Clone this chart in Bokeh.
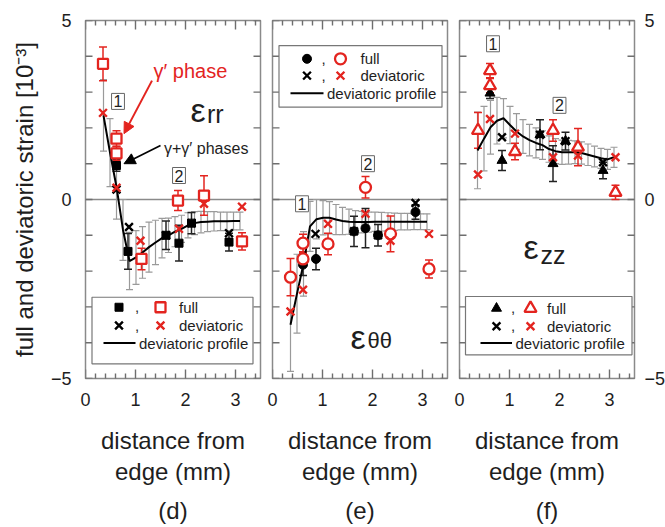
import math
from bokeh.plotting import figure
from bokeh.layouts import row
from bokeh.models import (Range1d, LinearAxis, FixedTicker, Span, Whisker, TeeHead,
                          ColumnDataSource, Label, Arrow, NormalHead, Title)
from bokeh.core.properties import value
from bokeh.embed import file_html
from bokeh.resources import INLINE

FONT = "Liberation Sans"
RED = "#e3241f"
GRAY = "#8a8a8a"
TXT = "#1e1e1e"

# ---------------- data ----------------
X_TICKS = [0, 1, 2, 3]
X_MINOR = [0.2, 0.4, 0.6, 0.8, 1.2, 1.4, 1.6, 1.8, 2.2, 2.4, 2.6, 2.8, 3.2, 3.4]
Y_TICKS = [-5, 0, 5]
Y_MINOR = [-4, -3, -2, -1, 1, 2, 3, 4]
X_LIM = (0, 3.5)
Y_LIM = (-5, 5)

# common abscissa of the deviatoric profiles (mm)
PX = [0.36, 0.49, 0.62, 0.75, 0.88, 1.01, 1.14, 1.27, 1.40, 1.53, 1.66, 1.79, 1.92,
      2.05, 2.18, 2.31, 2.44, 2.57, 2.70, 2.83, 2.96, 3.09]

# (d) eps_rr
D_FULL_RED_X = [0.35, 0.62, 0.62, 1.12, 1.85, 2.37, 3.13]
D_FULL_RED_Y = [3.79, 1.70, 1.29, -1.66, -0.03, 0.11, -1.17]
D_FULL_RED_E = [0.47, 0.22, 0.20, 0.30, 0.28, 0.55, 0.24]
D_FULL_BLK_X = [0.62, 0.85, 1.61, 1.87, 2.12, 2.87]
D_FULL_BLK_Y = [0.95, -1.45, -1.00, -1.22, -0.66, -1.19]
D_FULL_BLK_E = [0.16, 0.50, 0.40, 0.50, 0.30, 0.25]
D_DEV_BLK_X = [0.62, 0.87, 1.61, 2.12, 2.87]
D_DEV_BLK_Y = [0.28, -0.77, -1.00, -0.66, -0.94]
D_DEV_RED_X = [0.35, 0.62, 1.10, 1.87, 2.37, 3.13]
D_DEV_RED_Y = [2.42, 0.33, -1.15, -0.82, -0.12, -0.20]
D_PY = [2.35, 1.31, 0.35, -0.85, -1.72, -1.62, -1.48, -1.33, -1.20, -1.08, -1.00, -0.90,
        -0.82, -0.72, -0.66, -0.63, -0.62, -0.61, -0.61, -0.61, -0.60, -0.60]
D_PE = [1.00, 0.95, 0.90, 0.85, 0.80, 0.75, 0.72, 0.70, 0.62, 0.55, 0.48, 0.42, 0.38,
        0.35, 0.32, 0.30, 0.28, 0.27, 0.26, 0.26, 0.25, 0.25]

# (e) eps_theta theta
E_FULL_RED_X = [0.36, 0.61, 0.61, 1.11, 1.86, 2.36, 3.13]
E_FULL_RED_Y = [-2.17, -1.22, -1.66, -1.24, 0.34, -0.96, -1.94]
E_FULL_RED_E = [0.52, 0.25, 0.20, 0.30, 0.30, 0.50, 0.25]
E_FULL_BLK_X = [0.61, 0.87, 1.63, 1.86, 2.11, 2.86]
E_FULL_BLK_Y = [-1.82, -1.66, -0.89, -0.80, -1.00, -0.35]
E_FULL_BLK_E = [0.30, 0.30, 0.42, 0.55, 0.30, 0.20]
E_DEV_BLK_X = [0.86, 1.63, 2.11, 2.86]
E_DEV_BLK_Y = [-0.96, -0.89, -1.00, -0.10]
E_DEV_RED_X = [0.36, 0.61, 1.11, 1.86, 2.36, 3.13]
E_DEV_RED_Y = [-3.13, -2.52, -0.68, -0.40, -1.15, -0.96]
E_PY = [-3.50, -2.63, -1.80, -0.75, -0.55, -0.51, -0.51, -0.56, -0.60, -0.62, -0.63,
        -0.63, -0.63, -0.62, -0.62, -0.62, -0.62, -0.62, -0.62, -0.62, -0.62, -0.62]
E_PE = [1.30, 1.10, 0.90, 0.70, 0.55, 0.48, 0.45, 0.42, 0.38, 0.35, 0.32, 0.30, 0.28,
        0.27, 0.26, 0.25, 0.24, 0.23, 0.23, 0.22, 0.22, 0.22]

# (f) eps_zz
F_FULL_RED_X = [0.37, 0.61, 0.61, 1.11, 1.87, 2.37, 3.12]
F_FULL_RED_Y = [1.93, 3.60, 3.18, 1.34, 1.93, 1.46, 0.20]
F_FULL_RED_E = [0.50, 0.20, 0.20, 0.23, 0.30, 0.52, 0.20]
F_FULL_BLK_X = [0.61, 0.85, 1.61, 1.87, 2.12, 2.87]
F_FULL_BLK_Y = [2.97, 1.09, 1.81, 1.00, 1.63, 0.81]
F_FULL_BLK_E = [0.15, 0.28, 0.42, 0.50, 0.25, 0.23]
F_DEV_BLK_X = [0.85, 1.61, 2.12, 2.87]
F_DEV_BLK_Y = [1.74, 1.81, 1.63, 1.04]
F_DEV_RED_X = [0.37, 0.61, 1.11, 1.87, 2.37, 3.12]
F_DEV_RED_Y = [0.70, 2.25, 1.84, 1.18, 1.23, 1.18]
F_PY = [1.37, 1.70, 2.02, 2.20, 2.27, 2.08, 1.90, 1.76, 1.66, 1.58, 1.52, 1.41, 1.35,
        1.32, 1.32, 1.32, 1.30, 1.25, 1.20, 1.15, 1.12, 1.18]
F_PE = [1.07, 0.90, 0.75, 0.65, 0.55, 0.52, 0.50, 0.47, 0.44, 0.42, 0.40, 0.37, 0.35,
        0.34, 0.33, 0.32, 0.31, 0.30, 0.29, 0.28, 0.28, 0.28]

X_TITLE = "distance from\nedge (mm)"
Y_TITLE = "full and deviatoric strain [10\u207b\u00b3]"

# inward tick marks: marker sizes in px; the marker is centred half a length inside
MAJ_PX, MIN_PX, Y_PX = 18, 10, 14
PX_PER_X = 175 / (X_LIM[1] - X_LIM[0])
PX_PER_Y = 358 / (Y_LIM[1] - Y_LIM[0])
TICK_COLOR = "#6e6e6e"


# ---------------- helpers ----------------
def style_axis(ax, ticks, show, standoff=12):
    ax.axis_line_color = None
    ax.major_tick_line_color = None
    ax.minor_tick_line_color = None
    ax.major_tick_in = 0
    ax.major_tick_out = 0
    ax.minor_tick_in = 0
    ax.minor_tick_out = 0
    ax.major_label_text_font = FONT
    ax.major_label_text_font_size = "18px"
    ax.major_label_text_color = TXT
    if show:
        ax.major_label_standoff = standoff
    else:
        ax.major_label_overrides = {t: "" for t in ticks}
        ax.major_label_standoff = 0


def inward_ticks(p):
    # each tick is a vertical/horizontal "dash" marker centred on the frame edge,
    # so only its inner half is visible inside the frame
    y0, y1 = Y_LIM
    x0, x1 = X_LIM
    kw = dict(marker="dash", line_color=TICK_COLOR, line_width=1.4, fill_color=None)
    for xs, sz in ((X_TICKS, MAJ_PX), (X_MINOR, MIN_PX)):
        n = len(xs)
        p.scatter(x=xs, y=[y0] * n, size=sz, angle=math.pi / 2, **kw)
        p.scatter(x=xs, y=[y1] * n, size=sz, angle=math.pi / 2, **kw)
    ys = Y_TICKS + Y_MINOR
    n = len(ys)
    p.scatter(x=[x0] * n, y=ys, size=Y_PX, angle=0, **kw)
    p.scatter(x=[x1] * n, y=ys, size=Y_PX, angle=0, **kw)


def make_panel(letter, left_b, right_b, left_labels, right_labels, ylabel=None):
    p = figure(frame_width=175, frame_height=358, x_range=Range1d(*X_LIM),
               y_range=Range1d(*Y_LIM), output_backend="svg", toolbar_location=None,
               min_border_left=left_b, min_border_right=right_b, min_border_top=20,
               min_border_bottom=149, x_axis_location=None, y_axis_location=None,
               title_location=None)
    p.xgrid.visible = False
    p.ygrid.visible = False
    p.outline_line_color = GRAY
    p.outline_line_width = 1.5
    p.background_fill_color = "white"
    p.border_fill_color = "white"

    bot = LinearAxis(ticker=FixedTicker(ticks=X_TICKS, minor_ticks=X_MINOR))
    style_axis(bot, X_TICKS, True, standoff=14)
    bot.axis_label = X_TITLE
    bot.axis_label_text_font = FONT
    bot.axis_label_text_font_size = "24px"
    bot.axis_label_text_font_style = "normal"
    bot.axis_label_text_color = TXT
    bot.axis_label_text_line_height = 1.15
    bot.axis_label_standoff = 18
    p.add_layout(bot, "below")

    lef = LinearAxis(ticker=FixedTicker(ticks=Y_TICKS, minor_ticks=Y_MINOR))
    style_axis(lef, Y_TICKS, left_labels, standoff=14)
    if ylabel:
        lef.axis_label = ylabel
        lef.axis_label_text_font = FONT
        lef.axis_label_text_font_size = "24px"
        lef.axis_label_text_font_style = "normal"
        lef.axis_label_text_color = TXT
        lef.axis_label_standoff = 10
    p.add_layout(lef, "left")

    rig = LinearAxis(ticker=FixedTicker(ticks=Y_TICKS, minor_ticks=Y_MINOR))
    style_axis(rig, Y_TICKS, right_labels, standoff=10)
    p.add_layout(rig, "right")

    p.add_layout(Title(text=letter, align="center", text_font=FONT, text_font_size="24px",
                       text_font_style="normal", text_color=TXT, standoff=14), "below")

    p.add_layout(Span(location=0, dimension="width", line_color=GRAY, line_width=1.5,
                      level="underlay"))
    inward_ticks(p)
    return p


def errbars(p, xs, ys, es, color, head=8, width=1.5):
    src = ColumnDataSource(dict(x=xs, lo=[y - e for y, e in zip(ys, es)],
                                hi=[y + e for y, e in zip(ys, es)]))
    w = Whisker(source=src, base="x", lower="lo", upper="hi", line_color=color,
                line_width=width, level="underlay",
                lower_head=TeeHead(size=head, line_color=color, line_width=width),
                upper_head=TeeHead(size=head, line_color=color, line_width=width))
    p.add_layout(w)


def draw_series(p, full_marker, fr, fb, dr, db, prof):
    px, py, pe = prof
    errbars(p, px, py, pe, "#9a9a9a", head=7, width=1.2)
    p.line(px, py, line_color="black", line_width=2)
    errbars(p, fb[0], fb[1], fb[2], "#222222", head=8, width=1.5)
    errbars(p, fr[0], fr[1], fr[2], RED, head=8, width=1.5)
    big = {"square": 10, "circle": 11, "triangle": 12}[full_marker]
    small = {"square": 8, "circle": 9, "triangle": 10}[full_marker]
    p.scatter(fb[0], fb[1], marker=full_marker, size=small, fill_color="black",
              line_color="black")
    p.scatter(db[0], db[1], marker="x", size=11, line_color="black", line_width=2.4)
    p.scatter(fr[0], fr[1], marker=full_marker, size=big, fill_color="white",
              line_color=RED, line_width=2.3)
    p.scatter(dr[0], dr[1], marker="x", size=11, line_color=RED, line_width=2.4)


def legend(p, marker, box, rows, mx, line):
    l, r, t, b = box
    p.quad(left=[l], right=[r], top=[t], bottom=[b], fill_color="white",
           line_color="#777777", line_width=1.2)
    y1, y2, y3 = rows
    xb, xc, xr, xt = mx
    big = {"square": 10, "circle": 11, "triangle": 12}[marker]
    small = {"square": 8, "circle": 9, "triangle": 10}[marker]
    p.scatter([xb], [y1], marker=marker, size=small, fill_color="black", line_color="black")
    p.scatter([xr], [y1], marker=marker, size=big, fill_color="white", line_color=RED,
              line_width=2.3)
    p.scatter([xb], [y2], marker="x", size=11, line_color="black", line_width=2.4)
    p.scatter([xr], [y2], marker="x", size=11, line_color=RED, line_width=2.4)
    p.line([line[0], line[1]], [y3, y3], line_color="black", line_width=2)
    p.text(x=[xc, xc], y=[y1, y2], text=[",", ","], text_font=value(FONT),
           text_font_size="15px", text_color=TXT, text_align="center",
           text_baseline="middle")
    p.text(x=[xt, xt, line[2]], y=[y1, y2, y3], text=["full", "deviatoric", "deviatoric profile"],
           text_font=value(FONT), text_font_size="15px", text_color=TXT,
           text_baseline="middle")


def num_box(p, x, y, t):
    p.add_layout(Label(x=x, y=y, text=t, text_font=FONT, text_font_size="16px",
                       text_color=TXT, text_align="center", text_baseline="middle",
                       border_line_color="#666666", border_line_width=1,
                       background_fill_color="white", padding=2))


def eps(p, x, y, sub, xs, ys, subsize):
    p.text(x=[x], y=[y], text=["\u03b5"], text_font=value(FONT), text_font_size="34px",
           text_color=TXT, text_baseline="alphabetic")
    p.text(x=[xs], y=[ys], text=[sub], text_font=value(FONT), text_font_size=subsize,
           text_color=TXT, text_baseline="alphabetic")


# ---------------- panel (d) ----------------
pd_ = make_panel("(d)", 85, 6, True, False, ylabel=Y_TITLE)
draw_series(pd_, "square",
            (D_FULL_RED_X, D_FULL_RED_Y, D_FULL_RED_E),
            (D_FULL_BLK_X, D_FULL_BLK_Y, D_FULL_BLK_E),
            (D_DEV_RED_X, D_DEV_RED_Y), (D_DEV_BLK_X, D_DEV_BLK_Y),
            (PX, D_PY, D_PE))
legend(pd_, "square", (0.13, 3.35, -2.73, -4.59), (-3.01, -3.52, -4.01),
       (0.67, 1.03, 1.5, 1.87), (0.36, 1.0, 1.07))
num_box(pd_, 0.65, 2.74, "1")
num_box(pd_, 1.87, 0.67, "2")
eps(pd_, 2.1, 2.49, "rr", 2.43, 2.40, "25px")
pd_.text(x=[1.36], y=[3.6], text=["\u03b3\u2032 phase"], text_font=value(FONT),
         text_font_size="20px", text_color=RED, text_baseline="alphabetic")
pd_.text(x=[1.57], y=[1.42], text=["\u03b3+\u03b3\u2032 phases"], text_font=value(FONT),
         text_font_size="16px", text_color=TXT, text_baseline="alphabetic")
pd_.add_layout(Arrow(end=NormalHead(size=11, fill_color=RED, line_color=RED),
                     x_start=1.33, y_start=3.32, x_end=0.77, y_end=1.84,
                     line_color=RED, line_width=2))
pd_.add_layout(Arrow(end=NormalHead(size=11, fill_color="black", line_color="black"),
                     x_start=1.5, y_start=1.51, x_end=0.77, y_end=1.0,
                     line_color="black", line_width=1.8))

# ---------------- panel (e) ----------------
pe_ = make_panel("(e)", 6, 5, False, False)
draw_series(pe_, "circle",
            (E_FULL_RED_X, E_FULL_RED_Y, E_FULL_RED_E),
            (E_FULL_BLK_X, E_FULL_BLK_Y, E_FULL_BLK_E),
            (E_DEV_RED_X, E_DEV_RED_Y), (E_DEV_BLK_X, E_DEV_BLK_Y),
            (PX, E_PY, E_PE))
legend(pe_, "circle", (0.13, 3.39, 4.30, 2.58), (3.93, 3.46, 2.97),
       (0.69, 1.02, 1.36, 1.76), (0.36, 1.02, 1.09))
num_box(pe_, 0.59, -0.12, "1")
num_box(pe_, 1.91, 1.0, "2")
eps(pe_, 1.56, -3.85, "\u03b8\u03b8", 1.9, -3.94, "22px")

# ---------------- panel (f) ----------------
pf_ = make_panel("(f)", 7, 31, False, True)
draw_series(pf_, "triangle",
            (F_FULL_RED_X, F_FULL_RED_Y, F_FULL_RED_E),
            (F_FULL_BLK_X, F_FULL_BLK_Y, F_FULL_BLK_E),
            (F_DEV_RED_X, F_DEV_RED_Y), (F_DEV_BLK_X, F_DEV_BLK_Y),
            (PX, F_PY, F_PE))
legend(pf_, "triangle", (0.12, 3.45, -2.71, -4.34), (-3.04, -3.54, -4.01),
       (0.74, 1.07, 1.42, 1.75), (0.42, 1.05, 1.12))
num_box(pf_, 0.67, 4.35, "1")
num_box(pf_, 2.0, 2.63, "2")
eps(pf_, 1.28, -1.34, "zz", 1.62, -1.56, "25px")

layout = row(pd_, pe_, pf_)
open("out.html", "w").write(file_html(layout, INLINE))
